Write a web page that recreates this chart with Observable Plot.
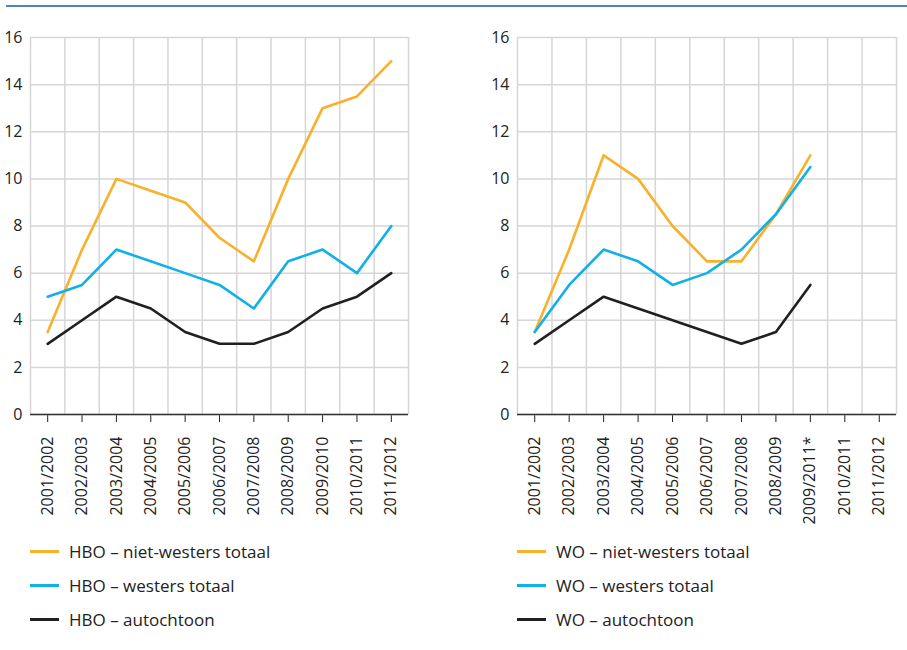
<!DOCTYPE html>
<html>
<head>
<meta charset="utf-8">
<script src="https://cdn.jsdelivr.net/npm/d3@7"></script>
<script src="https://cdn.jsdelivr.net/npm/@observablehq/plot@0.6"></script>
<style>
  body { margin: 0; background: #fff; font-family: "Open Sans", sans-serif; color: #222; }
  #wrap { position: relative; width: 907px; height: 650px; overflow: hidden; }
  #topline { position: absolute; left: 6px; right: 0; top: 5px; height: 2px; background: #4a86b8; }
  .panel { position: absolute; top: 0; }
  .legend { position: absolute; top: 534px; font-size: 17px; }
  .legend .row { height: 34px; display: flex; align-items: center; }
  .legend .sw { width: 29px; height: 3px; margin-right: 10px; }
</style>
</head>
<body>
<div id="wrap">
  <div id="topline"></div>
  <div id="p1" class="panel" style="left:0"></div>
  <div id="p2" class="panel" style="left:453px"></div>
  <div id="l1" class="legend" style="left:30px"></div>
  <div id="l2" class="legend" style="left:517px"></div>
</div>
<script>
const catsHBO = ["2001/2002","2002/2003","2003/2004","2004/2005","2005/2006","2006/2007","2007/2008","2008/2009","2009/2010","2010/2011","2011/2012"];
const catsWO  = ["2001/2002","2002/2003","2003/2004","2004/2005","2005/2006","2006/2007","2007/2008","2008/2009","2009/2011*","2010/2011","2011/2012"];

const hboNietWesters = [3.5, 7, 10, 9.5, 9, 7.5, 6.5, 10, 13, 13.5, 15];
const hboWesters     = [5, 5.5, 7, 6.5, 6, 5.5, 4.5, 6.5, 7, 6, 8];
const hboAutochtoon  = [3, 4, 5, 4.5, 3.5, 3, 3, 3.5, 4.5, 5, 6];

const woNietWesters = [3.5, 7, 11, 10, 8, 6.5, 6.5, 8.5, 11];
const woWesters     = [3.5, 5.5, 7, 6.5, 5.5, 6, 7, 8.5, 10.5];
const woAutochtoon  = [3, 4, 5, 4.5, 4, 3.5, 3, 3.5, 5.5];

const yTicks = [0, 2, 4, 6, 8, 10, 12, 14, 16];
const colors = { niet: "#f9b12b", westers: "#12b0e8", auto: "#231f20" };

function panel(cats, series, marginLeft, marginRight, width) {
  const n = cats.length;
  const bounds = d3.range(n + 1).map(i => i - 0.5);
  return Plot.plot({
    width, height: 525,
    marginTop: 37, marginBottom: 111, marginLeft, marginRight,
    style: { fontFamily: "'Open Sans', sans-serif", fontSize: "16px", color: "#222", background: "transparent" },
    x: { domain: [-0.5, n - 0.5], ticks: d3.range(n), tickFormat: i => cats[i], tickRotate: -90, tickSize: 8, tickPadding: 14, label: null },
    y: { domain: [0, 16], ticks: yTicks, tickSize: 0, tickPadding: 8, label: null },
    marks: [
      Plot.ruleY(yTicks, { stroke: "#d6d6d6", strokeWidth: 1.5 }),
      Plot.ruleX(bounds, { stroke: "#d6d6d6", strokeWidth: 1.5 }),
      Plot.ruleY([0], { stroke: "#333", strokeWidth: 1.5 }),
      ...series.map(s => Plot.line(s.values, { x: (d, i) => i, y: d => d, stroke: s.color, strokeWidth: 2.6 }))
    ]
  });
}

document.getElementById("p1").append(panel(catsHBO, [
  { values: hboNietWesters, color: colors.niet },
  { values: hboWesters, color: colors.westers },
  { values: hboAutochtoon, color: colors.auto }
], 30, 45, 453));

document.getElementById("p2").append(panel(catsWO, [
  { values: woNietWesters, color: colors.niet },
  { values: woWesters, color: colors.westers },
  { values: woAutochtoon, color: colors.auto }
], 64, 11, 454));

function legend(id, items) {
  const el = document.getElementById(id);
  for (const it of items) {
    const row = document.createElement("div");
    row.className = "row";
    row.innerHTML = `<span class="sw" style="background:${it.color}"></span><span>${it.label}</span>`;
    el.append(row);
  }
}
legend("l1", [
  { label: "HBO – niet-westers totaal", color: colors.niet },
  { label: "HBO – westers totaal", color: colors.westers },
  { label: "HBO – autochtoon", color: colors.auto }
]);
legend("l2", [
  { label: "WO – niet-westers totaal", color: colors.niet },
  { label: "WO – westers totaal", color: colors.westers },
  { label: "WO – autochtoon", color: colors.auto }
]);
</script>
</body>
</html>
